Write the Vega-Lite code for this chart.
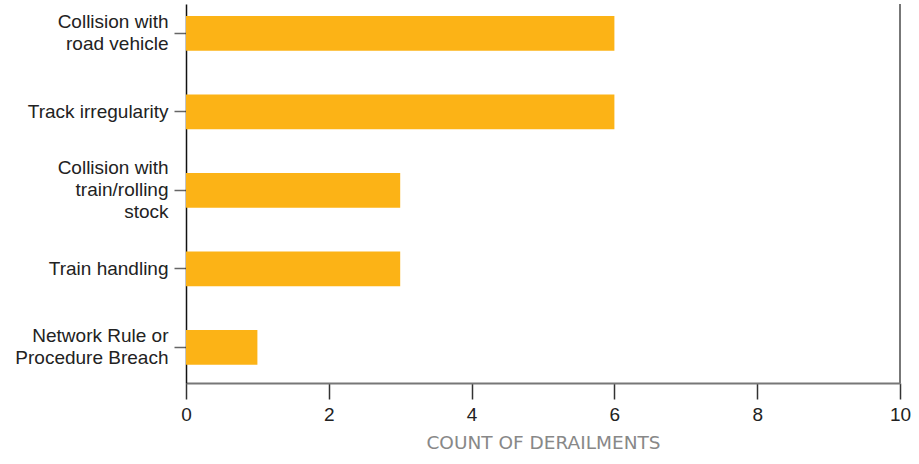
{
  "$schema": "https://vega.github.io/schema/vega-lite/v6.json",
  "width": 714,
  "height": 379,
  "autosize": {"type": "none"},
  "padding": {"left": 186, "top": 4, "right": 19, "bottom": 81},
  "background": "white",
  "config": {
    "view": {"stroke": null},
    "font": "Liberation Sans",
    "axis": {"grid": false, "labelFont": "Liberation Sans", "titleFont": "Liberation Sans"}
  },
  "data": {
    "values": [
      {"cause": "Collision with|road vehicle", "count": 6},
      {"cause": "Track irregularity", "count": 6},
      {"cause": "Collision with|train/rolling|stock", "count": 3},
      {"cause": "Train handling", "count": 3},
      {"cause": "Network Rule or|Procedure Breach", "count": 1}
    ]
  },
  "layer": [
    {
      "mark": {"type": "bar", "color": "#FCB316"},
      "encoding": {
        "y": {
          "field": "cause",
          "type": "nominal",
          "sort": null,
          "scale": {"paddingInner": 0.558, "paddingOuter": 0.193, "align": 0.4},
          "axis": {
            "title": null,
            "labelExpr": "split(datum.label, '|')",
            "labelFontSize": 19,
            "labelColor": "#222222",
            "labelLineHeight": 22,
            "labelBaseline": "middle",
            "labelOffset": {
              "condition": [
                {"test": "datum.value === 'Collision with|train/rolling|stock'", "value": -22},
                {"test": "indexof(datum.value, '|') >= 0", "value": -11}
              ],
              "value": 0
            },
            "labelPadding": 6,
            "tickSize": 12,
            "tickColor": "#666666",
            "tickWidth": 1.5,
            "domainColor": "#111111",
            "domainWidth": 1.5,
            "labelLimit": 300
          }
        },
        "x": {
          "field": "count",
          "type": "quantitative",
          "scale": {"domain": [0, 10], "nice": false},
          "axis": {
            "title": "COUNT OF DERAILMENTS",
            "values": [0, 2, 4, 6, 8, 10],
            "format": "d",
            "labelFlush": false,
            "labelFontSize": 19,
            "labelColor": "#222222",
            "labelPadding": 6,
            "tickSize": 16,
            "tickColor": "#333333",
            "tickWidth": 1.5,
            "domainColor": "#777777",
            "domainWidth": 2,
            "titleFont": "DejaVu Sans",
            "titleFontSize": 18.5,
            "titleFontWeight": "normal",
            "titleColor": "#888888",
            "titlePadding": 9
          }
        }
      }
    },
    {
      "mark": {"type": "rule", "color": "#777777", "strokeWidth": 2},
      "encoding": {"x": {"datum": 10}}
    }
  ]
}
